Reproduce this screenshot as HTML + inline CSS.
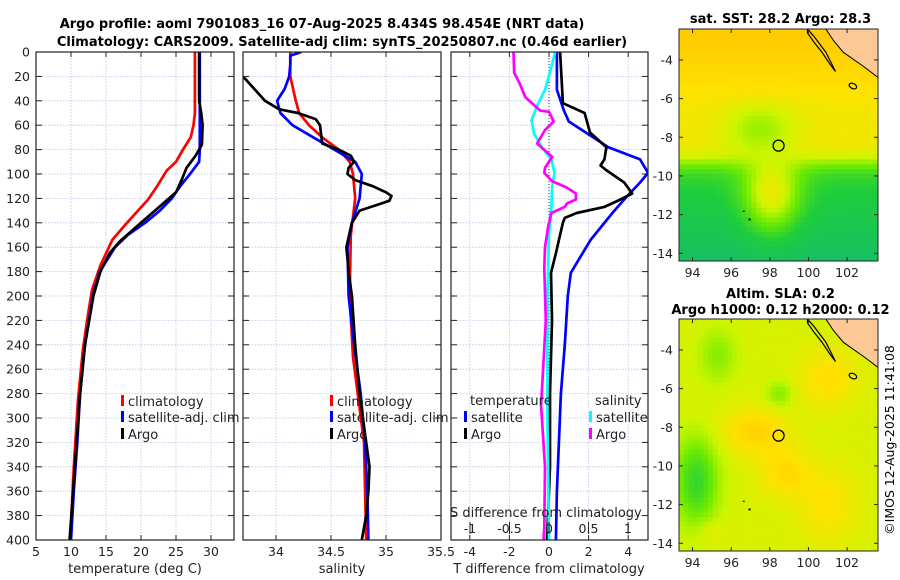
<!DOCTYPE html>
<html><head><meta charset="utf-8">
<style>
html,body{margin:0;padding:0;background:#fff;}
svg{display:block;font-family:"DejaVu Sans","Liberation Sans",sans-serif;}
</style></head>
<body>
<svg id="fig" width="900" height="580" viewBox="0 0 900 580" xmlns="http://www.w3.org/2000/svg">
<text x="322" y="28" font-size="13" font-weight="bold" text-anchor="middle">Argo profile: aoml 7901083_16 07-Aug-2025 8.434S 98.454E (NRT data)</text>
<text x="342" y="46" font-size="13" font-weight="bold" text-anchor="middle">Climatology: CARS2009. Satellite-adj clim: synTS_20250807.nc (0.46d earlier)</text>
<g id="panels"></g>
<g id="maps"></g>
<text transform="translate(894,440) rotate(-90)" font-size="12.5" text-anchor="middle">©IMOS 12-Aug-2025 11:41:08</text>
</svg>
<script>
// ---------- Data ----------
const depthTicks=[0,20,40,60,80,100,120,140,160,180,200,220,240,260,280,300,320,340,360,380,400];
const tempTicks=[5,10,15,20,25,30];
const salTicks=[34,34.5,35,35.5];
const tdiffTicks=[-4,-2,0,2,4];
const sdiffTicks=[-1,-0.5,0,0.5,1];

const tClimDepth=[0,50,60,70,80,90,97,110,121,140,154,175,195,220,244,285,340,400];
const tClimVal=[27.7,27.7,27.5,27.1,26,25,23.7,22.3,21,18,15.9,14.2,13,12.3,11.7,11,10.4,9.9];
const tSatDepth=[0,80,90,100,110,120,130,140,150,160,180,200,240,280,320,360,400];
const tSatVal=[28.4,28.4,28.3,27,25.6,24.4,22.7,20.6,18.1,16.3,14.1,13.1,12,11.3,10.9,10.4,10];
const tArgoDepth=[0,40,50,60,76,85,95,105,115,125,135,145,155,165,180,200,240,280,320,360,400];
const tArgoVal=[28.3,28.3,28.6,28.8,28.7,27.8,26.5,25.8,25,23,21,19,17,15.5,14.2,13.2,12,11.3,10.8,10.3,9.8];

const sClimDepth=[0,20,40,50,60,70,80,90,100,120,150,200,250,285,320,360,400];
const sClimVal=[34.13,34.13,34.18,34.21,34.3,34.42,34.57,34.67,34.7,34.72,34.68,34.67,34.7,34.75,34.8,34.81,34.82];
const sSatDepth=[0,3,10,20,30,40,50,60,70,80,90,100,120,140,160,200,240,280,320,360,400];
const sSatVal=[34.23,34.13,34.13,34.12,34.08,34.01,34.04,34.15,34.34,34.53,34.72,34.78,34.76,34.69,34.65,34.66,34.71,34.77,34.81,34.83,34.84];
const sArgoDepth=[18,22,30,40,47,50,55,60,75,80,85,90,95,100,105,110,115,118,122,125,130,140,160,180,200,240,280,320,340,360,380,400];
const sArgoVal=[33.65,33.72,33.8,33.9,34.03,34.2,34.36,34.4,34.42,34.57,34.68,34.71,34.66,34.65,34.72,34.88,35.0,35.05,35.03,34.93,34.76,34.69,34.64,34.66,34.69,34.72,34.76,34.82,34.85,34.84,34.82,34.78];

const dtSatDepth=[0,31,48,57,78,88,99,107,119,132,154,181,200,240,280,320,360,400];
const dtSatVal=[0.4,0.4,0.75,1,3,4.6,5,4.6,3.9,3.2,2.1,1.1,0.95,0.8,0.6,0.5,0.4,0.35];
const dtArgoDepth=[0,42,50,66,78,88,93,97,107,116,121,127,132,136,140,154,165,181,220,280,340,400];
const dtArgoVal=[0.56,0.7,1.8,2.07,2.9,2.8,2.6,2.9,3.8,4.2,3.6,2.8,1.4,0.8,0.7,0.5,0.35,0.1,0.15,0.05,0.05,-0.1];
const dsSatDepth=[0,17,31,44,56,67,78,88,99,110,127,150,200,300,400];
const dsSatVal=[0.08,0.01,-0.05,-0.15,-0.22,-0.19,-0.09,0.03,0.07,0.04,0.03,0,-0.02,-0.02,0];
const dsArgoDepth=[0,17,26,37,44,48,49,57,64,75,86,95,99,106,111,116,121,124,127,132,143,160,177,220,290,340,390,400];
const dsArgoVal=[-0.45,-0.44,-0.37,-0.3,-0.18,-0.11,0,0.06,-0.05,-0.15,0.04,-0.05,-0.06,0.04,0.22,0.34,0.34,0.23,0.2,0.03,-0.01,-0.05,-0.06,-0.04,-0.1,-0.05,-0.06,-0.07];

const latTicks=[-4,-6,-8,-10,-12,-14];
const lonTicks=[94,96,98,100,102];
const argoLon=98.454, argoLat=-8.434;

// ---------- Helpers ----------
const NS='http://www.w3.org/2000/svg';
function mk(tag,attrs,parent){const e=document.createElementNS(NS,tag);for(const k in attrs)e.setAttribute(k,attrs[k]);if(parent)parent.appendChild(e);return e;}
const Y0=52,Y1=540;
function yD(d){return Y0+(d/400)*(Y1-Y0);}
function xT(v){return 36+7*(v-5);}
function xS(v){return 276+110*(v-34);}
function xDT(v){return 549+19.8*v;}
function xDS(v){return 549+79*v;}

const panels=document.getElementById('panels');
const defs=mk('defs',{},panels);
function panel(name,x0,x1,xf,ticks,grid){
  const g=mk('g',{},panels);
  
  
  const cp=mk('clipPath',{id:'cp-'+name},defs);
  mk('rect',{x:x0,y:Y0,width:x1-x0,height:Y1-Y0},cp);
  depthTicks.forEach(d=>{
    const l=mk('line',{x1:x0,x2:x1,y1:yD(d),y2:yD(d),stroke:'#b8c4e8','stroke-width':0.8,'stroke-dasharray':'1.5,1.5'},g);
    
    
    mk('line',{x1:x0,x2:x0+6,y1:yD(d),y2:yD(d),stroke:'#222'},g);
    mk('line',{x1:x1-6,x2:x1,y1:yD(d),y2:yD(d),stroke:'#222'},g);
  });
  grid.forEach(v=>{
    const xx=xf(v); if(xx<=x0+1||xx>=x1-1) return;
    const l=mk('line',{x1:xx,x2:xx,y1:Y0,y2:Y1,stroke:'#b8c4e8','stroke-width':0.8,'stroke-dasharray':'1.5,1.5'},g);
    
    
    mk('line',{x1:xx,x2:xx,y1:Y1,y2:Y1-5,stroke:'#222'},g);
    mk('line',{x1:xx,x2:xx,y1:Y0,y2:Y0+5,stroke:'#222'},g);
  });
  const gl=mk('g',{'clip-path':'url(#cp-'+name+')'},g);
  const fr=mk('rect',{x:x0,y:Y0,width:x1-x0,height:Y1-Y0,fill:'none',stroke:'#222','stroke-width':1.2},g);
  
  
  return {g,gl};
}
function series(parent,name,depths,vals,xf,color){
  const pts=depths.map((d,i)=>xf(vals[i]).toFixed(1)+','+yD(d).toFixed(1)).join(' ');
  const p=mk('polyline',{points:pts,fill:'none',stroke:color,'stroke-width':2.7,'stroke-linejoin':'round'},parent);
  
  
}
function txt(parent,name,x,y,s,opts){
  const t=mk('text',Object.assign({x:x,y:y,'font-size':12.5,fill:'#222'},opts||{}),parent);
  t.textContent=s;
  
  
  return t;
}
function legendEntry(parent,x,y,color,label){
  const r=mk('rect',{x:x-2,y:y-6,width:3,height:11,fill:color},parent);
  
  
  txt(parent,'legend-entry',x+5,y+5,label,{'font-size':13});
}

// Panel 1: temperature
const p1=panel('temperature-panel',36,234,xT,tempTicks,tempTicks);
series(p1.gl,'temperature-climatology-line',tClimDepth,tClimVal,xT,'#ff0000');
series(p1.gl,'temperature-satellite-line',tSatDepth,tSatVal,xT,'#0000ff');
series(p1.gl,'temperature-argo-line',tArgoDepth,tArgoVal,xT,'#000000');
depthTicks.forEach(d=>txt(p1.g,'y-tick-label',30,yD(d)+4.5,String(d),{'text-anchor':'end'}));
tempTicks.forEach(v=>txt(p1.g,'x-tick-label',xT(v),556,String(v),{'text-anchor':'middle'}));
txt(p1.g,'x-axis-title',135,573,'temperature (deg C)',{'text-anchor':'middle','font-size':13});
legendEntry(p1.g,123,401,'#ff0000','climatology');
legendEntry(p1.g,123,417,'#0000ff','satellite-adj. clim');
legendEntry(p1.g,123,434,'#000000','Argo');

// Panel 2: salinity
const p2=panel('salinity-panel',243,441,xS,salTicks,salTicks);
series(p2.gl,'salinity-climatology-line',sClimDepth,sClimVal,xS,'#ff0000');
series(p2.gl,'salinity-satellite-line',sSatDepth,sSatVal,xS,'#0000ff');
series(p2.gl,'salinity-argo-line',sArgoDepth,sArgoVal,xS,'#000000');
salTicks.forEach(v=>txt(p2.g,'x-tick-label',xS(v),556,String(v),{'text-anchor':'middle'}));
txt(p2.g,'x-axis-title',342,573,'salinity',{'text-anchor':'middle','font-size':13});
legendEntry(p2.g,332,401,'#ff0000','climatology');
legendEntry(p2.g,332,417,'#0000ff','satellite-adj. clim');
legendEntry(p2.g,332,434,'#000000','Argo');

// Panel 3: differences
const p3=panel('difference-panel',451,648,xDT,tdiffTicks,tdiffTicks);
mk('line',{x1:xDT(0),x2:xDT(0),y1:Y0,y2:Y1,stroke:'#333','stroke-width':1,'stroke-dasharray':'1,2'},p3.gl);
series(p3.gl,'tdiff-satellite-line',dtSatDepth,dtSatVal,xDT,'#0000ff');
series(p3.gl,'tdiff-argo-line',dtArgoDepth,dtArgoVal,xDT,'#000000');
series(p3.gl,'sdiff-satellite-line',dsSatDepth,dsSatVal,xDS,'#00ffff');
series(p3.gl,'sdiff-argo-line',dsArgoDepth,dsArgoVal,xDS,'#ff00ff');
tdiffTicks.forEach(v=>txt(p3.g,'x-tick-label',xDT(v),556,String(v),{'text-anchor':'middle'}));
sdiffTicks.forEach(v=>{
  mk('line',{x1:xDS(v),x2:xDS(v),y1:522,y2:534,stroke:'#222'},p3.g);
  txt(p3.g,'s-tick-label',xDS(v),533,String(v),{'text-anchor':'middle'});
});
txt(p3.g,'s-axis-title',450,517,'S difference from climatology',{'font-size':13});
txt(p3.g,'x-axis-title',549,573,'T difference from climatology',{'text-anchor':'middle','font-size':13});
txt(p3.g,'legend-title-temperature',470,405,'temperature',{'font-size':13});
txt(p3.g,'legend-title-salinity',595,405,'salinity',{'font-size':13});
legendEntry(p3.g,466,417,'#0000ff','satellite');
legendEntry(p3.g,466,434,'#000000','Argo');
legendEntry(p3.g,591,417,'#00ffff','satellite');
legendEntry(p3.g,591,434,'#ff00ff','Argo');

// ---------- Maps ----------
const maps=document.getElementById('maps');
const LON0=93.3,LON1=103.6,LAT0=-2.4,LAT1=-14.4;
function gauss(lon,lat,cx,cy,sx,sy){return Math.exp(-(((lon-cx)/sx)**2+((lat-cy)/sy)**2));}
function sig(x,w){return 1/(1+Math.exp(-x/w));}
const stops=[[0,[16,180,130]],[0.3,[30,205,60]],[0.5,[110,235,0]],[0.65,[205,245,0]],[0.8,[255,225,0]],[1,[255,180,0]]];
function cmap(v){v=Math.max(0,Math.min(1,v));for(let i=1;i<stops.length;i++){if(v<=stops[i][0]){const a=stops[i-1],b=stops[i];const t=(v-a[0])/(b[0]-a[0]);return 'rgb('+a[1].map((c,k)=>Math.round(c+(b[1][k]-c)*t)).join(',')+')';}}return 'rgb(255,180,0)';}
function sstField(lon,lat){
  const north=0.86+0.03*(lat+4);
  const mid=0.76-0.2*gauss(lon,lat,97.5,-7.5,1.8,1.5);
  let south=0.36-0.045*(-9.5-lat);
  south+=0.44*gauss(lon,lat,98.1,-11.0,1.5,2.1);
  const a=sig(lat+6,0.5), b=sig(lat+9.3,0.3);
  return north*a+(1-a)*(mid*b+south*(1-b));
}
function slaField(lon,lat){
  let v=0.68;
  v+=0.18*gauss(lon,lat,97.2,-8.2,1.6,1.2);
  v+=0.15*gauss(lon,lat,98.8,-10.3,1.3,1.3);
  v+=0.14*gauss(lon,lat,101,-5.5,1.5,1.5);
  v+=0.12*gauss(lon,lat,101,-12,1.5,2);
  v-=0.32*gauss(lon,lat,94.2,-10.8,1.1,2.2);
  v-=0.14*gauss(lon,lat,95.3,-4.3,1.0,1.4);
  v-=0.15*gauss(lon,lat,98.5,-6.3,0.7,0.7);
  v+=0.06*gauss(lon,lat,95,-13.4,0.8,0.6);
  return v;
}
function drawMap(name,x0,y0,w,h,field,title1,title2){
  const g=mk('g',{},maps);
  
  
  const cp=mk('clipPath',{id:'cp-'+name},g);
  mk('rect',{x:x0,y:y0,width:w,height:h},cp);
  const gc=mk('g',{'clip-path':'url(#cp-'+name+')'},g);
  const lx=lon=>x0+(lon-LON0)/(LON1-LON0)*w;
  const ly=lat=>y0+(LAT0-lat)/(LAT0-LAT1)*h;
  const step=0.25;
  for(let lon=LON0;lon<LON1;lon+=step){
    for(let lat=LAT0;lat>LAT1;lat-=step){
      const c=cmap(field(lon+step/2,lat-step/2));
      mk('rect',{x:lx(lon).toFixed(1),y:ly(lat).toFixed(1),width:(w*step/(LON1-LON0)+0.6).toFixed(1),height:(h*step/(LAT0-LAT1)+0.6).toFixed(1),fill:c},gc);
    }
  }
  const land=mk('polygon',{points:[[100.9,-2.4],[103.6,-2.4],[103.6,-4.9],[102.8,-4.3],[101.8,-3.6],[101.3,-3.0]].map(p=>lx(p[0])+','+ly(p[1])).join(' '),fill:'#fcc896',stroke:'#000','stroke-width':1},gc);
  
  
  const isl=mk('polygon',{points:[[99.95,-2.4],[100.3,-2.8],[100.6,-3.2],[100.9,-3.6],[101.4,-4.6],[101.1,-4.2],[100.7,-3.6],[100.3,-3.1],[99.95,-2.6]].map(p=>lx(p[0])+','+ly(p[1])).join(' '),fill:'none',stroke:'#000','stroke-width':1.2},gc);
  
  
  mk('ellipse',{cx:lx(102.3),cy:ly(-5.35),rx:4,ry:2.5,fill:'none',stroke:'#000','stroke-width':1.2,transform:'rotate(25 '+lx(102.3)+' '+ly(-5.35)+')'},gc);
  mk('rect',{x:lx(96.6),y:ly(-11.8),width:2,height:1,fill:'#000'},gc);
  mk('rect',{x:lx(96.9),y:ly(-12.2),width:2,height:2,fill:'#000'},gc);
  const c=mk('circle',{cx:lx(argoLon),cy:ly(argoLat),r:5.5,fill:'none',stroke:'#000','stroke-width':1.3},g);
  
  
  mk('rect',{x:x0,y:y0,width:w,height:h,fill:'none',stroke:'#222','stroke-width':1},g);
  latTicks.forEach(t=>{
    mk('line',{x1:x0,x2:x0+4,y1:ly(t),y2:ly(t),stroke:'#222'},g);
    mk('line',{x1:x0+w-4,x2:x0+w,y1:ly(t),y2:ly(t),stroke:'#222'},g);
    txt(g,'lat-tick-label',x0-6,ly(t)+4.5,String(t),{'text-anchor':'end'});
  });
  lonTicks.forEach(t=>{
    mk('line',{x1:lx(t),x2:lx(t),y1:y0+h,y2:y0+h-4,stroke:'#222'},g);
    mk('line',{x1:lx(t),x2:lx(t),y1:y0,y2:y0+4,stroke:'#222'},g);
    txt(g,'lon-tick-label',lx(t),y0+h+16,String(t),{'text-anchor':'middle'});
  });
  if(title1) txt(g,'map-title',x0+w/2+2,title2?y0-21:y0-6,title1,{'text-anchor':'middle','font-weight':'bold','font-size':13,fill:'#000'});
  if(title2) txt(g,'map-subtitle',x0+w/2+2,y0-5,title2,{'text-anchor':'middle','font-weight':'bold','font-size':13,fill:'#000'});
}
drawMap('sst-map',679,29,199,232,sstField,'sat. SST: 28.2 Argo: 28.3');
drawMap('sla-map',679,319,199,232,slaField,'Altim. SLA: 0.2','Argo h1000: 0.12 h2000: 0.12');
</script>
</body></html>
